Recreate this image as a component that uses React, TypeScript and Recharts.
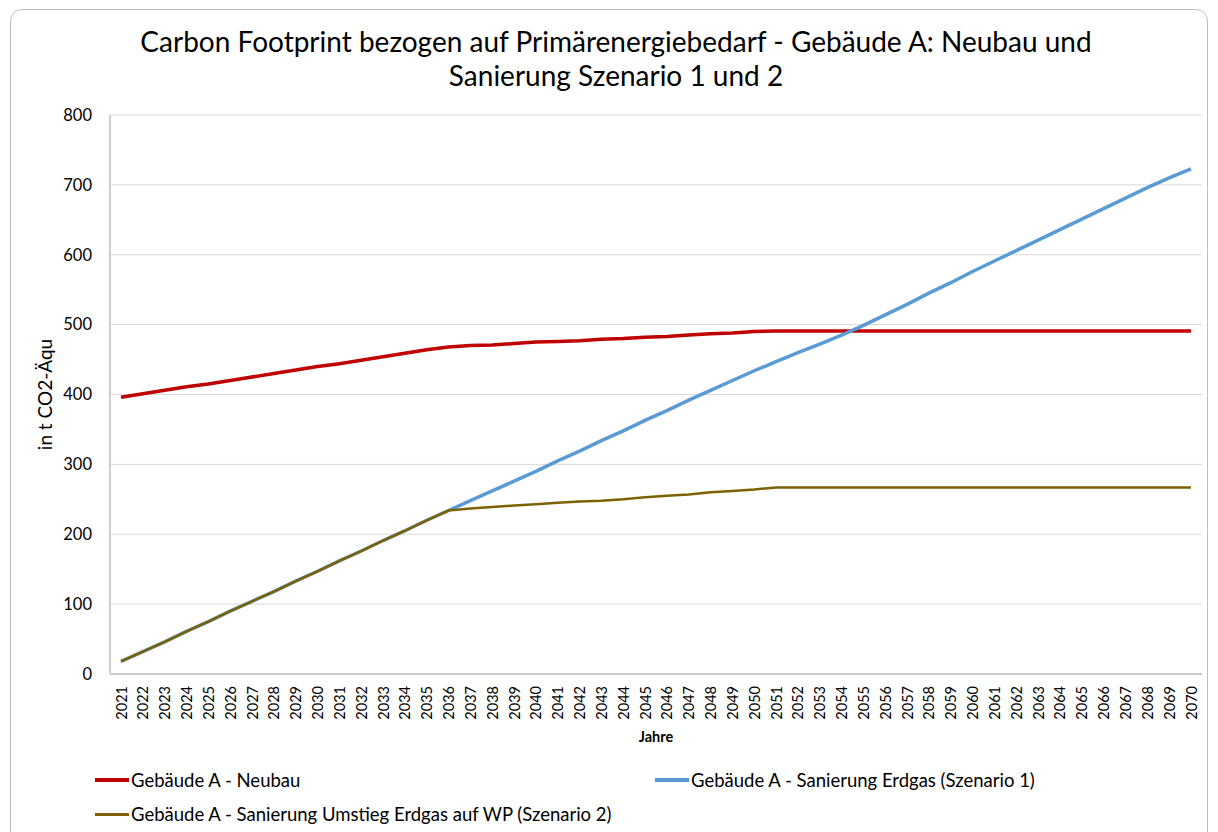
import React from 'react';
import { LineChart, Line, XAxis, YAxis, CartesianGrid, Legend } from 'recharts';

const years = [
  '2021','2022','2023','2024','2025','2026','2027','2028','2029','2030',
  '2031','2032','2033','2034','2035','2036','2037','2038','2039','2040',
  '2041','2042','2043','2044','2045','2046','2047','2048','2049','2050',
  '2051','2052','2053','2054','2055','2056','2057','2058','2059','2060',
  '2061','2062','2063','2064','2065','2066','2067','2068','2069','2070',
];

const neubau = [
  396, 401, 406, 411, 415, 420, 425, 430, 435, 440, 444, 449, 454, 459, 464, 468,
  470, 471, 473, 475, 476, 477, 479, 480, 482, 483, 485, 487, 488, 490, 491,
  491, 491, 491, 491, 491, 491, 491, 491, 491, 491, 491, 491, 491, 491, 491, 491, 491, 491, 491,
];

const sanierungErdgas = [
  18, 32, 46, 61, 75, 90, 104, 118, 133, 147, 162, 176, 191, 205, 220, 234,
  248, 262, 276, 290, 305, 319, 334, 348, 363, 377, 392, 406, 420, 434, 447, 460, 472, 485,
  499, 514, 529, 545, 560, 576, 591, 606, 621, 636, 651, 666, 681, 696, 710, 723,
];

const sanierungWP = [
  18, 32, 46, 61, 75, 90, 104, 118, 133, 147, 162, 176, 191, 205, 220, 234,
  237, 239, 241, 243, 245, 247, 248, 250, 253, 255, 257, 260, 262, 264, 267,
  267, 267, 267, 267, 267, 267, 267, 267, 267, 267, 267, 267, 267, 267, 267, 267, 267, 267, 267,
];

const yTicks = [0, 100, 200, 300, 400, 500, 600, 700, 800];

const seriesNames = [
  'Gebäude A - Neubau',
  'Gebäude A - Sanierung Erdgas (Szenario 1)',
  'Gebäude A - Sanierung Umstieg Erdgas auf WP (Szenario 2)',
];

const titleLines = [
  'Carbon Footprint bezogen auf Primärenergiebedarf - Gebäude A: Neubau und',
  'Sanierung Szenario 1 und 2',
];

const data = years.map((y, i) => ({
  year: y,
  neubau: neubau[i],
  erdgas: sanierungErdgas[i],
  wp: sanierungWP[i],
}));

const FONT = 'Lato, "Open Sans", "Liberation Sans", sans-serif';

const XTick = (props: any) => {
  const { x, y, payload } = props;
  return (
    <text
      x={x}
      y={y}
      transform={`rotate(-90, ${x}, ${y})`}
      textAnchor="end"
      dominantBaseline="central"
      fontSize={14.5}
      fontFamily={FONT}
      fill="#000"
    >
      {payload.value}
    </text>
  );
};

const YLabel = (props: any) => {
  const { viewBox } = props;
  const cx = viewBox.x - 6;
  const cy = viewBox.y + viewBox.height / 2;
  return (
    <text
      x={cx}
      y={cy}
      transform={`rotate(-90, ${cx}, ${cy})`}
      textAnchor="middle"
      dominantBaseline="central"
      fontSize={19}
      fontFamily={FONT}
      fill="#000"
    >
      in t CO2-Äqu
    </text>
  );
};

const LegendContent = (props: any) => {
  const { payload } = props;
  const positions = [
    { left: 95, top: 0 },
    { left: 655, top: 0 },
    { left: 95, top: 34 },
  ];
  return (
    <div style={{ position: 'relative', width: 1218, height: 60 }}>
      {(payload || []).map((p: any, i: number) => (
        <div
          key={i}
          style={{
            position: 'absolute',
            left: positions[i].left,
            top: positions[i].top,
            display: 'flex',
            alignItems: 'center',
            fontFamily: FONT,
            fontSize: 18.5,
            color: '#000',
            whiteSpace: 'nowrap',
            lineHeight: '20px',
          }}
        >
          <span
            style={{
              display: 'inline-block',
              width: 34,
              height: i === 2 ? 3 : 4,
              background: p.color,
              marginRight: 2,
            }}
          />
          <span>{p.value}</span>
        </div>
      ))}
    </div>
  );
};

export default function App() {
  return (
    <div style={{ position: 'absolute', left: 0, top: 0, width: 1218, height: 832, background: '#fff', overflow: 'hidden' }}>
      <div
        style={{
          position: 'absolute',
          left: 10,
          top: 9,
          width: 1198,
          height: 840,
          border: '1px solid #bfbfbf',
          borderRadius: 12,
          boxSizing: 'border-box',
        }}
      />
      <div
        style={{
          position: 'absolute',
          left: 116,
          top: 24,
          width: 1000,
          textAlign: 'center',
          fontFamily: FONT,
          fontSize: 28,
          lineHeight: '34px',
          color: '#000',
        }}
      >
        {titleLines.map((t, i) => (
          <div key={i}>{t}</div>
        ))}
      </div>
      <div style={{ position: 'absolute', left: 0, top: 0 }}>
        <LineChart
          width={1218}
          height={832}
          data={data}
          margin={{ top: 115, right: 16, bottom: 28, left: 50 }}
        >
          <CartesianGrid vertical={false} stroke="#d9d9d9" strokeWidth={1} />
          <XAxis
            dataKey="year"
            interval={0}
            height={70}
            padding={{ left: 11, right: 11 }}
            tickLine={false}
            tickSize={0}
            tickMargin={12}
            axisLine={{ stroke: '#bfbfbf', strokeWidth: 1.5 }}
            tick={<XTick />}
            label={{ value: 'Jahre', position: 'insideBottom', offset: 2, fontSize: 14.5, fontWeight: 700, fontFamily: FONT, fill: '#000' }}
          />
          <YAxis
            domain={[0, 800]}
            ticks={yTicks}
            width={60}
            tickLine={false}
            tickSize={0}
            tickMargin={18}
            axisLine={{ stroke: '#bfbfbf', strokeWidth: 1.5 }}
            tick={{ fontSize: 16.5, fontFamily: FONT, fill: '#000' }}
            label={<YLabel />}
          />
          <Legend
            content={<LegendContent />}
            wrapperStyle={{ position: 'absolute', left: 0, top: 770, width: 1218, height: 60 }}
          />
          <Line
            type="linear"
            dataKey="neubau"
            name={seriesNames[0]}
            stroke="#c00000"
            strokeWidth={3.5}
            dot={false}
            isAnimationActive={false}
          />
          <Line
            type="linear"
            dataKey="erdgas"
            name={seriesNames[1]}
            stroke="#5b9bd5"
            strokeWidth={3.5}
            dot={false}
            isAnimationActive={false}
          />
          <Line
            type="linear"
            dataKey="wp"
            name={seriesNames[2]}
            stroke="#7f6000"
            strokeWidth={2.5}
            dot={false}
            isAnimationActive={false}
          />
        </LineChart>
      </div>
    </div>
  );
}
